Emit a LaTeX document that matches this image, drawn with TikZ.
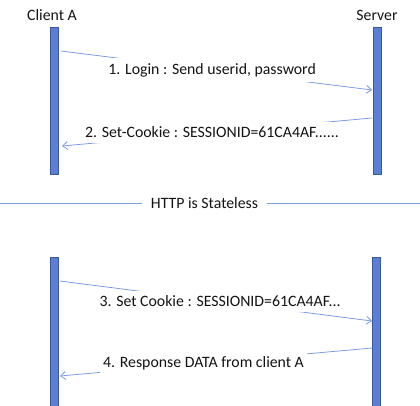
\documentclass[tikz,border=0pt]{standalone}
\usepackage{fontspec}
\setmainfont{Carlito}
\usetikzlibrary{arrows.meta}
\definecolor{barfill}{HTML}{5B7FD6}
\definecolor{bardraw}{HTML}{3A5799}
\definecolor{msgcol}{HTML}{7D9CE3}
\definecolor{txtcol}{HTML}{141414}
\begin{document}
\begin{tikzpicture}[x=1pt,y=-1pt,
  lifeline/.style={draw=bardraw,fill=barfill,line width=0.9pt,minimum width=8pt,inner sep=0pt,rectangle},
  msg/.style={draw=msgcol,line width=0.8pt,-{Straight Barb[length=5pt,width=8pt,line width=0.8pt]}},
  lbl/.style={fill=white,inner xsep=3pt,inner ysep=5pt,text=txtcol,font=\fontsize{15.8}{19}\selectfont},
  title/.style={text=txtcol,font=\fontsize{15.8}{19}\selectfont,inner sep=0pt},
  sepline/.style={draw=msgcol,line width=0.8pt}]
\useasboundingbox (0,0) rectangle (420,405);
% upper lifelines
\node[lifeline,minimum height=147pt] (ca) at (54.5,100.5) {};
\node[lifeline,minimum height=147pt] (sv) at (377.5,100.5) {};
\node[title] (tca) at (52,15) {Client A};
\node[title] (tsv) at (377,15) {Server};
% message coordinates
\coordinate (m1s) at (61,51);
\coordinate (m1e) at (372,90);
\coordinate (m2s) at (372,118);
\coordinate (m2e) at (62,146);
\draw[msg] (m1s) -- node[lbl,pos=0.486] (l1) {1. Login : Send userid, password} (m1e);
\draw[msg] (m2s) -- node[lbl,pos=0.516] (l2) {2. Set-Cookie : SESSIONID=61CA4AF......} (m2e);
% separator
\node[title,inner xsep=9pt] (sep) at (204.5,203) {HTTP is Stateless};
\coordinate (sepL) at (0,203);
\coordinate (sepR) at (420,203);
\draw[sepline] (sepL) -- (sep.west);
\draw[sepline] (sep.east) -- (sepR);
% lower lifelines
\node[lifeline,minimum height=153pt] (ca2) at (54,333.5) {};
\node[lifeline,minimum height=153pt] (sv2) at (376,333.5) {};
\coordinate (m3s) at (60,281);
\coordinate (m3e) at (372,321);
\coordinate (m4s) at (372,348);
\coordinate (m4e) at (60,376);
\draw[msg] (m3s) -- node[lbl,pos=0.513] (l3) {3. Set Cookie : SESSIONID=61CA4AF...} (m3e);
\draw[msg] (m4s) -- node[lbl,pos=0.54] (l4) {4. Response DATA from client A} (m4e);
\end{tikzpicture}
\end{document}
